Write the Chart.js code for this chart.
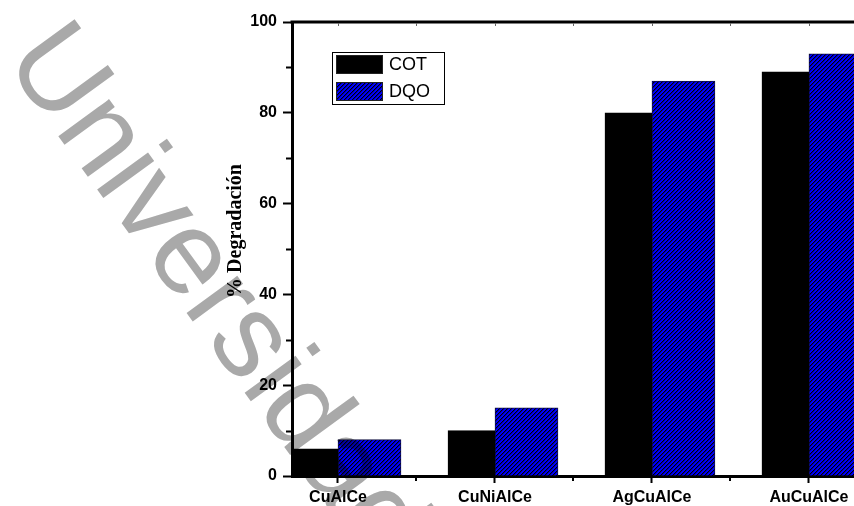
<!DOCTYPE html>
<html>
<head>
<meta charset="utf-8">
<script src="https://cdn.jsdelivr.net/npm/chart.js@4"></script>
<style>
  html, body { margin: 0; padding: 0; background: #fff; overflow: hidden; }
  #chart { display: block; }
</style>
</head>
<body>
<canvas id="chart" width="854" height="506"></canvas>
<script>
    // ── data ──
    const categories = ['CuAlCe', 'CuNiAlCe', 'AgCuAlCe', 'AuCuAlCe'];
    const seriesNames = ['COT', 'DQO'];
    const cotValues = [6, 10, 80, 89];
    const dqoValues = [8, 15, 87, 93];
    const yTicks = [0, 20, 40, 60, 80, 100];

    // blue fill with black "/" hatching, drawn pixel by pixel so it stays crisp
    function hatchPattern() {
      const c = document.createElement('canvas');
      c.width = 4; c.height = 4;
      const g = c.getContext('2d');
      for (let px = 0; px < 4; px++) {
        for (let py = 0; py < 4; py++) {
          const k = (px + py) % 4;
          g.fillStyle = k === 3 ? '#000000' : k === 0 ? '#0000a0' : '#0000ff';
          g.fillRect(px, py, 1, 1);
        }
      }
      return g.createPattern(c, 'repeat');
    }
    const hatch = hatchPattern();

    const toPoints = vals => vals.map((v, i) => ({ x: i + 1, y: v }));

    // ── frame: top line, minor ticks, inward top ticks ──
    const framePlugin = {
      id: 'frame',
      afterDraw(chart) {
        const { ctx, chartArea: a, scales: { x, y } } = chart;
        ctx.save();
        ctx.strokeStyle = '#000';
        ctx.lineWidth = 3;
        ctx.beginPath();
        ctx.moveTo(a.left - 1.5, a.top);
        ctx.lineTo(a.right, a.top);
        ctx.stroke();

        ctx.lineWidth = 2;
        ctx.beginPath();
        for (let v = 10; v < 100; v += 20) {
          const py = Math.round(y.getPixelForValue(v)) + 0.5;
          ctx.moveTo(a.left, py); ctx.lineTo(a.left - 6, py);
        }
        for (let i = 1; i < categories.length; i++) {
          const px = Math.round(x.getPixelForValue(i + 0.5));
          ctx.moveTo(px, a.bottom); ctx.lineTo(px, a.bottom + 5);
        }
        ctx.stroke();

        ctx.strokeStyle = '#666';
        ctx.lineWidth = 1;
        ctx.beginPath();
        for (let v = 1; v <= categories.length + 0.5; v += 0.5) {
          const px = Math.round(x.getPixelForValue(v)) + 0.5;
          if (px > a.right) break;
          ctx.moveTo(px, a.top + 1); ctx.lineTo(px, a.top + 4);
        }
        ctx.stroke();
        ctx.restore();
      }
    };

    // ── boxed legend inside the plot ──
    const legendBox = {
      id: 'legendBox',
      afterDraw(chart) {
        const ctx = chart.ctx;
        const bx = 332, by = 52, bw = 112, bh = 52;
        ctx.save();
        ctx.fillStyle = '#fff';
        ctx.fillRect(bx, by, bw, bh);
        ctx.strokeStyle = '#000';
        ctx.lineWidth = 1;
        ctx.strokeRect(bx + 0.5, by + 0.5, bw, bh);
        ctx.font = '18px "Liberation Sans", Arial, sans-serif';
        ctx.textBaseline = 'middle';
        chart.data.datasets.forEach((ds, i) => {
          const sy = by + 3 + i * 27;
          ctx.fillStyle = ds.backgroundColor;
          ctx.fillRect(bx + 4, sy, 47, 19);
          ctx.strokeStyle = '#222';
          ctx.strokeRect(bx + 4.5, sy + 0.5, 46, 18);
          ctx.fillStyle = '#000';
          ctx.fillText(ds.label, bx + 57, sy + 10.5);
        });
        ctx.restore();
      }
    };

    // ── y title and diagonal stamp ──
    const overlay = {
      id: 'overlay',
      afterDraw(chart) {
        const ctx = chart.ctx;
        ctx.save();
        ctx.translate(236, 231);
        ctx.rotate(-Math.PI / 2);
        ctx.font = 'bold 20px "Liberation Serif", "Times New Roman", serif';
        ctx.textAlign = 'center';
        ctx.textBaseline = 'middle';
        ctx.fillStyle = '#000';
        ctx.fillText('% Degradación', 0, 0);
        ctx.restore();

        ctx.save();
        ctx.globalCompositeOperation = 'multiply';
        ctx.translate(3, 60);
        ctx.rotate(54 * Math.PI / 180);
        ctx.font = '119px "Liberation Sans", Arial, sans-serif';
        ctx.textBaseline = 'alphabetic';
        ctx.fillStyle = '#a9a9a9';
        ctx.fillText('Universidad', 0, 0);
        ctx.restore();
      }
    };

    const tickFont = { family: '"Liberation Sans", Arial, sans-serif', size: 16, weight: 'bold' };

    new Chart(document.getElementById('chart'), {
      type: 'bar',
      data: {
        datasets: [
          { label: seriesNames[0], data: toPoints(cotValues), backgroundColor: '#000', borderColor: '#000', borderWidth: 1, barThickness: 47 },
          { label: seriesNames[1], data: toPoints(dqoValues), backgroundColor: hatch, borderColor: '#101040', borderWidth: 1, barThickness: 63 }
        ]
      },
      options: {
        responsive: false,
        devicePixelRatio: 1,
        animation: false,
        layout: { padding: { left: 0, top: 22, right: 0, bottom: 0 } },
        plugins: { legend: { display: false }, tooltip: { enabled: false } },
        scales: {
          x: {
            type: 'linear',
            min: 0.707, max: 4.287,
            offset: false,
            afterFit: s => { s.height = 30; },
            border: { color: '#000', width: 3 },
            grid: { drawOnChartArea: false, offset: false, tickLength: 7, tickWidth: 2, tickColor: '#000' },
            ticks: {
              stepSize: 1, includeBounds: false, autoSkip: false, maxRotation: 0,
              color: '#000', font: tickFont, padding: 5,
              callback: v => categories[v - 1] || ''
            }
          },
          y: {
            min: 0, max: 100,
            afterFit: s => { s.width = 292; },
            afterBuildTicks: s => { s.ticks = yTicks.map(v => ({ value: v })); },
            border: { color: '#000', width: 3 },
            grid: { drawOnChartArea: false, tickLength: 9, tickWidth: 2, tickColor: '#000' },
            ticks: { color: '#000', font: tickFont, padding: 6 }
          }
        }
      },
      plugins: [framePlugin, legendBox, overlay]
    });
</script>
</body>
</html>
